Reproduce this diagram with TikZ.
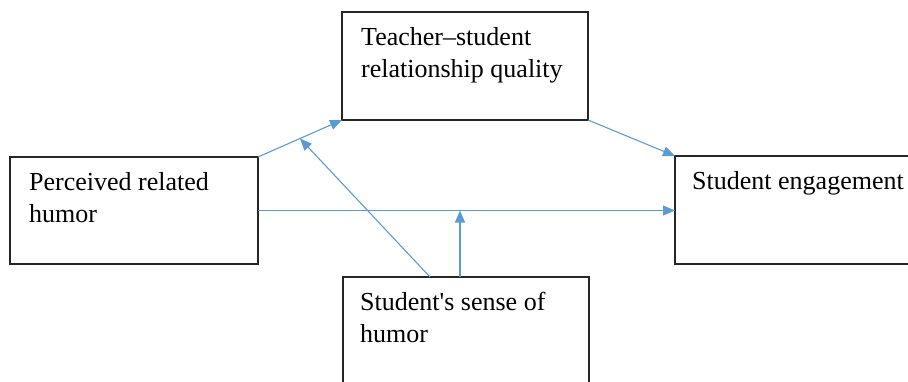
\documentclass[tikz,border=0pt]{standalone}
\usepackage{fontspec}
\setmainfont{Liberation Serif}[Ligatures=TeXOff]
\usetikzlibrary{arrows.meta,calc}
\definecolor{linkblue}{HTML}{5B9BD5}
\definecolor{boxline}{HTML}{262626}
\begin{document}
\begin{tikzpicture}[x=1pt,y=-1pt,
  box/.style={draw=boxline, line width=1.2pt, anchor=north west, inner sep=0pt, outer sep=0pt},
  lbl/.style={anchor=base west, inner sep=0pt, font=\fontsize{26}{32}\selectfont},
  link/.style={draw=linkblue, line width=1.1pt, -{Triangle[length=12pt,width=10pt]}}]
\useasboundingbox (0,0) rectangle (908,381);
\clip (0,0) rectangle (908,381);
% boxes
\node[box, minimum width=246pt, minimum height=108pt] (T) at (342,12) {};
\node[box, minimum width=248pt, minimum height=107pt] (L) at (10,157) {};
\node[box, minimum width=250pt, minimum height=108pt] (R) at (675,156) {};
\node[box, minimum width=246pt, minimum height=130pt] (B) at (343,277) {};
% labels
\node[lbl] (Tt) at ($(T.north west)+(19,33)$) {\vtop{\hbox{Teacher–student}\hbox{relationship quality}}};
\node[lbl] (Lt) at ($(L.north west)+(19,33)$) {\vtop{\hbox{Perceived related}\hbox{humor}}};
\node[lbl] (Rt) at ($(R.north west)+(17,33)$) {Student engagement};
\node[lbl] (Bt) at ($(B.north west)+(17,33)$) {\vtop{\hbox{Student's sense of}\hbox{humor}}};
% connectors
\draw[link] (L.north east) -- (T.south west);
\draw[link] (T.south east) -- (R.north west);
\draw[link] (L.east) -- (L.east -| R.west);
\coordinate (m1) at ($(L.north east)!0.5!(T.south west)$);
\coordinate (b1) at ($(B.north west)+(87,0)$);
\coordinate (b2) at ($(B.north west)+(117,0)$);
\draw[link] (b1) -- (m1);
\draw[link] (b2) -- (b2 |- L.east);
\end{tikzpicture}
\end{document}
